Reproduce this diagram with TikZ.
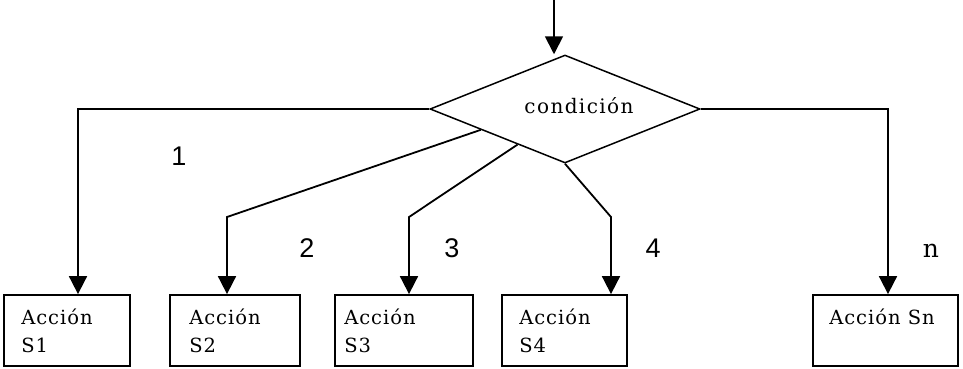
\documentclass[tikz,border=0pt]{standalone}
\usepackage{fontspec}
\setmainfont{DejaVu Serif}
\newfontfamily\boxfont[LetterSpace=5]{DejaVu Serif}
\newfontfamily\condfont[LetterSpace=7]{DejaVu Serif}
\newfontfamily\digfont{Liberation Sans}
\usetikzlibrary{shapes.geometric,arrows.meta,calc}
\begin{document}
\begin{tikzpicture}[x=1pt,y=1pt,
 arr/.style={line width=1.8pt,-{Triangle[length=18pt,width=18pt]}},
 actbox/.style={draw,line width=1.8pt,rectangle,minimum height=71pt,inner sep=0pt},
 acttext/.style={anchor=north west,inner sep=0pt,align=left,font=\boxfont\fontsize{19.5}{28}\selectfont},
 lbl/.style={font=\digfont\fontsize{27}{27}\selectfont,inner sep=0pt},
 nlbl/.style={font=\fontsize{25}{25}\selectfont,inner sep=0pt}
]
\useasboundingbox (0,0) rectangle (963,-368);
% decision
\node[diamond,draw,line width=1.5pt,minimum width=270pt,minimum height=108pt,aspect=2.5,inner sep=0pt] (cond) at (565,-109) {};
\node[font=\condfont\fontsize{20}{20}\selectfont,inner sep=0pt,anchor=base] (ctext) at (579,-113) {condición};
% action boxes
\node[actbox,minimum width=126pt] (s1) at (67,-330.5) {};
\node[actbox,minimum width=130pt] (s2) at (235,-330.5) {};
\node[actbox,minimum width=138pt] (s3) at (404,-330.5) {};
\node[actbox,minimum width=125pt] (s4) at (564.5,-330.5) {};
\node[actbox,minimum width=145pt] (sn) at (885.5,-330.5) {};
\node[acttext] (t1) at ($(s1.north west)+(18,-15)$) {Acción\\S1};
\node[acttext] (t2) at ($(s2.north west)+(20,-15)$) {Acción\\S2};
\node[acttext] (t3) at ($(s3.north west)+(10,-15)$) {Acción\\S3};
\node[acttext] (t4) at ($(s4.north west)+(18,-15)$) {Acción\\S4};
\node[acttext] (tn) at ($(sn.north west)+(17,-15)$) {Acción Sn};
% labels
\node[lbl] (l1) at (179,-156) {1};
\node[lbl] (l2) at (307,-248) {2};
\node[lbl] (l3) at (452,-248) {3};
\node[lbl] (l4) at (653,-248) {4};
\node[nlbl] (ln) at (931,-251) {n};
% connectors
\coordinate (top) at (554,0);
\draw[arr] (top) -- (top |- cond.north);
\coordinate (b1) at (78,-109);
\draw[arr] (cond.west) -- (b1) -- (b1 |- s1.north);
\coordinate (b2) at (227,-217);
\draw[arr] ($(cond.west)!0.38!(cond.south)$) -- (b2) -- (b2 |- s2.north);
\coordinate (b3) at (409,-217);
\draw[arr] ($(cond.west)!0.65!(cond.south)$) -- (b3) -- (b3 |- s3.north);
\coordinate (b4) at (611,-217);
\draw[arr] (cond.south) -- (b4) -- (b4 |- s4.north);
\coordinate (bn) at (888,-109);
\draw[arr] (cond.east) -- (bn) -- (bn |- sn.north);
\end{tikzpicture}
\end{document}
